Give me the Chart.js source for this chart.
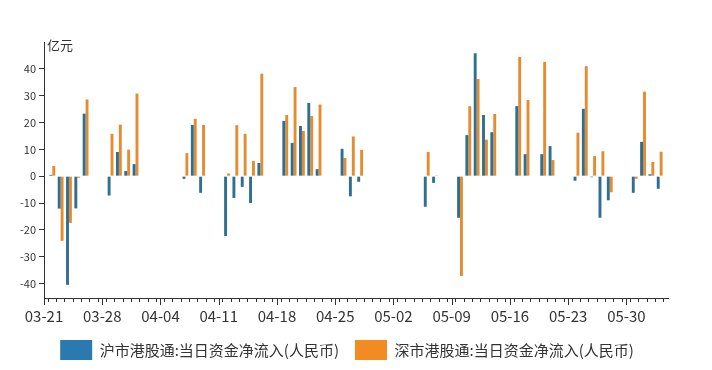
<!DOCTYPE html>
<html>
<head>
<meta charset="utf-8">
<script src="https://cdn.jsdelivr.net/npm/chart.js@4/dist/chart.umd.min.js"></script>
<style>
    html, body { margin: 0; padding: 0; background: #fff; }
    #wrap { width: 712px; height: 370px; }
</style>
</head>
<body>
<div id="wrap"><canvas id="flowChart"></canvas></div>
<script>
// Dates du calendrier (03-21 -> 06-04), null = pas de séance
const dates = [
    '03-21', '03-22', '03-23', '03-24', '03-25', '03-26', '03-27',
    '03-28', '03-29', '03-30', '03-31', '04-01', '04-02', '04-03',
    '04-04', '04-05', '04-06', '04-07', '04-08', '04-09', '04-10',
    '04-11', '04-12', '04-13', '04-14', '04-15', '04-16', '04-17',
    '04-18', '04-19', '04-20', '04-21', '04-22', '04-23', '04-24',
    '04-25', '04-26', '04-27', '04-28', '04-29', '04-30', '05-01',
    '05-02', '05-03', '05-04', '05-05', '05-06', '05-07', '05-08',
    '05-09', '05-10', '05-11', '05-12', '05-13', '05-14', '05-15',
    '05-16', '05-17', '05-18', '05-19', '05-20', '05-21', '05-22',
    '05-23', '05-24', '05-25', '05-26', '05-27', '05-28', '05-29',
    '05-30', '05-31', '06-01', '06-02', '06-03', '06-04'
];

// 沪市港股通 (亿元)
const shValues = [
    null, 0.5, -12.1, -40.5, -12.0, 23.3, null,
    null, -7.2, 9.0, 1.9, 4.5, null, null,
    null, null, null, -1.0, 19.1, -6.2, null,
    null, -22.3, -8.1, -4.0, -10.0, 4.9, null,
    null, 20.6, 12.4, 18.7, 27.3, 2.6, null,
    null, 10.2, -7.5, -2.1, null, null, null,
    null, null, null, null, -11.4, -2.5, null,
    null, -15.5, 15.3, 45.8, 22.8, 16.4, null,
    null, 26.1, 8.2, null, 8.2, 11.2, null,
    null, -1.7, 25.1, -0.4, -15.5, -9.0, null,
    null, -6.2, 12.8, 0.7, -4.7, null
];

// 深市港股通 (亿元)
const szValues = [
    null, 3.8, -24.1, -17.4, -0.6, 28.6, null,
    null, 15.8, 19.2, 9.9, 30.8, null, null,
    null, null, null, 8.6, 21.4, 19.1, null,
    null, 1.0, 19.0, 15.8, 5.7, 38.2, null,
    null, 22.8, 33.2, 16.9, 22.4, 26.7, null,
    null, 6.8, 14.8, 9.8, null, null, null,
    null, null, null, null, 9.0, 0.3, null,
    null, -37.2, 26.1, 36.2, 13.6, 23.2, null,
    null, 44.4, 28.4, null, 42.6, 6.0, null,
    null, 16.2, 41.0, 7.5, 9.3, -6.0, null,
    null, -1.0, 31.5, 5.3, 9.1, null
];

const yTicks = [-40, -30, -20, -10, 0, 10, 20, 30, 40];
const seriesNames = ['沪市港股通:当日资金净流入(人民币)', '深市港股通:当日资金净流入(人民币)'];
const unitLabel = '亿元';

const AXIS = '#333333';
const FONT = "'Noto Sans CJK SC', 'Noto Sans', sans-serif";

// Graduations majeures (une par semaine) + unité en haut de l'axe
const extrasPlugin = {
    id: 'extras',
    afterLayout(chart) {
        // recentrer la légende sous toute la largeur
        if (chart.legend) {
            chart.legend.left += 13;
            chart.legend.right += 13;
        }
    },
    afterDraw(chart) {
        const ctx = chart.ctx;
        const x = chart.scales.x;
        const area = chart.chartArea;
        ctx.save();
        ctx.strokeStyle = AXIS;
        ctx.lineWidth = 1;
        x.ticks.forEach((t, i) => {
            if (i % 7 !== 0) return;
            const px = Math.round(x.getPixelForTick(i)) + 0.5;
            ctx.beginPath();
            ctx.moveTo(px, area.bottom);
            ctx.lineTo(px, area.bottom + 7);
            ctx.stroke();
        });
        ctx.fillStyle = AXIS;
        ctx.font = '13px ' + FONT;
        ctx.textBaseline = 'top';
        ctx.textAlign = 'left';
        ctx.fillText(unitLabel, area.left + 3, area.top - 3);
        ctx.restore();
    }
};

document.addEventListener('DOMContentLoaded', function() {
    const ctx = document.getElementById('flowChart').getContext('2d');
    new Chart(ctx, {
        type: 'bar',
        data: {
            labels: dates,
            datasets: [
                {
                    label: seriesNames[0],
                    data: shValues,
                    backgroundColor: '#2e6f92',
                    legendColor: '#2a7ab0'
                },
                {
                    label: seriesNames[1],
                    data: szValues,
                    backgroundColor: '#e58c30',
                    legendColor: '#f28c22'
                }
            ]
        },
        options: {
            responsive: true,
            maintainAspectRatio: false,
            animation: false,
            categoryPercentage: 0.7,
            barPercentage: 1.0,
            layout: {
                padding: { top: 42, right: 44, left: 0, bottom: 0 }
            },
            plugins: {
                tooltip: { enabled: false },
                legend: {
                    display: true,
                    position: 'bottom',
                    labels: {
                        boxWidth: 32,
                        boxHeight: 20,
                        padding: 16,
                        color: AXIS,
                        font: { size: 15, family: FONT },
                        generateLabels: function(chart) {
                            return chart.data.datasets.map((ds, i) => ({
                                text: ds.label,
                                fillStyle: ds.legendColor,
                                strokeStyle: ds.legendColor,
                                lineWidth: 0,
                                fontColor: AXIS,
                                datasetIndex: i,
                                hidden: false
                            }));
                        }
                    }
                }
            },
            scales: {
                x: {
                    offset: false,
                    afterFit: function(scale) {
                        scale.height = 26;
                    },
                    grid: {
                        display: true,
                        drawOnChartArea: false,
                        tickLength: 4,
                        tickColor: AXIS
                    },
                    border: { color: AXIS, width: 1 },
                    ticks: {
                        autoSkip: false,
                        maxRotation: 0,
                        color: AXIS,
                        padding: 5,
                        font: { size: 15, family: FONT },
                        callback: function(val, idx) {
                            return idx % 7 === 0 ? dates[idx] : '';
                        }
                    }
                },
                y: {
                    min: -45.4,
                    max: 50,
                    afterBuildTicks: function(scale) {
                        scale.ticks = yTicks.map(v => ({ value: v }));
                    },
                    afterFit: function(scale) {
                        scale.width = 44;
                    },
                    grid: {
                        display: true,
                        drawOnChartArea: false,
                        tickLength: 5,
                        tickColor: AXIS
                    },
                    border: { color: AXIS, width: 1 },
                    ticks: {
                        color: AXIS,
                        padding: 3,
                        font: { size: 11, family: FONT }
                    }
                }
            }
        },
        plugins: [extrasPlugin]
    });
});
</script>
</body>
</html>
